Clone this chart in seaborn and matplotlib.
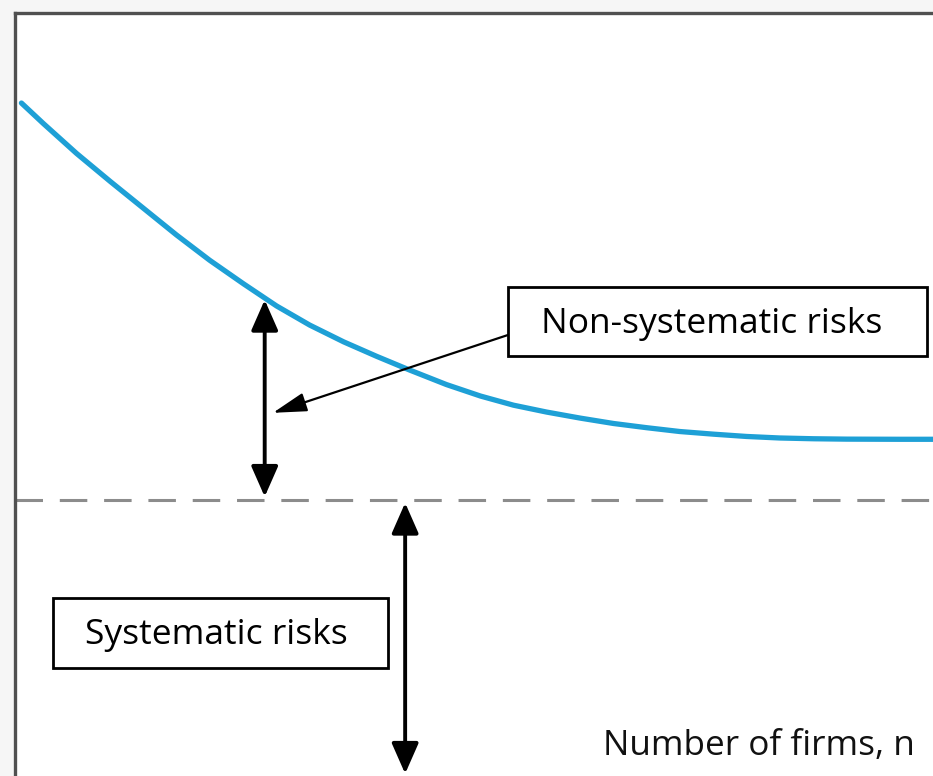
import matplotlib
matplotlib.use("Agg")
import matplotlib.pyplot as plt
import seaborn as sns
import pandas as pd
from matplotlib.patches import Rectangle

# ---- data ----
n_firms = [0.7, 3.1, 6.7, 10.4, 14.0, 17.6, 21.2, 24.9, 28.5, 32.1, 35.8, 39.4,
           43.0, 47.0, 50.7, 54.3, 57.9, 61.6, 65.2, 68.8, 72.4, 76.1, 79.7,
           83.3, 87.0, 90.6, 96.4, 100.0]
total_risk = [88.2, 85.5, 81.6, 77.9, 74.4, 70.9, 67.6, 64.5, 61.6, 59.1, 56.9, 55.0,
              53.2, 51.3, 49.8, 48.6, 47.7, 46.9, 46.2, 45.65, 45.15, 44.8, 44.5,
              44.3, 44.2, 44.15, 44.13, 44.13]
systematic_level = 36.2
nonsys_arrow_n = 27.2
sys_arrow_n = 42.5
label_nonsys = "Non-systematic risks"
label_sys = "Systematic risks"
label_x = "Number of firms, n"

sns.set_style("white")
plt.rcParams['font.family'] = ['Open Sans', 'DejaVu Sans']

W, H = 933, 776
fig = plt.figure(figsize=(W / 100, H / 100), dpi=100, facecolor="#f6f6f6")
ax = fig.add_axes([15 / W, 0, 918 / W, 763 / H])
ax.set_facecolor("white")

df = pd.DataFrame({"n": n_firms, "risk": total_risk})
sns.lineplot(data=df, x="n", y="risk", ax=ax, color="#1ea0d6", lw=3.8,
             solid_capstyle="round", solid_joinstyle="round")

ax.axhline(systematic_level, color="#8c8c8c", lw=2.2, dashes=(9, 5.5))

ax.set_xlim(0, 100)
ax.set_ylim(0, 100)
ax.set_xticks([])
ax.set_yticks([])
ax.set_xlabel("")
ax.set_ylabel("")
for s in ["right", "bottom"]:
    ax.spines[s].set_visible(False)
for s in ["left", "top"]:
    ax.spines[s].set_color("#505050")
    ax.spines[s].set_linewidth(2.4)

# double arrows
dbl = dict(arrowstyle="<|-|>,head_length=1.25,head_width=0.55", color="black",
           lw=2.8, mutation_scale=15, shrinkA=0, shrinkB=0)
ax.annotate("", xy=(nonsys_arrow_n, 62.4), xytext=(nonsys_arrow_n, 36.6), arrowprops=dbl)
ax.annotate("", xy=(sys_arrow_n, 35.8), xytext=(sys_arrow_n, 0.3), arrowprops=dbl)

# pointer arrow
ax.annotate("", xy=(28.1, 47.6), xytext=(53.7, 57.8),
            arrowprops=dict(arrowstyle="-|>,head_length=1.6,head_width=0.45", color="black",
                            lw=1.6, mutation_scale=13, shrinkA=0, shrinkB=0))

# boxes
ax.add_patch(Rectangle((53.7, 55.0), 99.3 - 53.7, 64.1 - 55.0, fill=True, facecolor="white",
                       edgecolor="black", lw=2.0, zorder=5))
ax.text(75.9, 59.3, label_nonsys, ha="center", va="center", fontsize=25.5,
        color="black", zorder=6)
ax.add_patch(Rectangle((4.1, 14.2), 40.6 - 4.1, 23.3 - 14.2, fill=True, facecolor="white",
                       edgecolor="black", lw=2.0, zorder=5))
ax.text(21.9, 18.5, label_sys, ha="center", va="center", fontsize=25.5,
        color="black", zorder=6)

ax.text(98.0, 2.75, label_x, ha="right", va="baseline", fontsize=25.3, color="#111111")

fig.savefig("out.png", dpi=100, facecolor=fig.get_facecolor())
